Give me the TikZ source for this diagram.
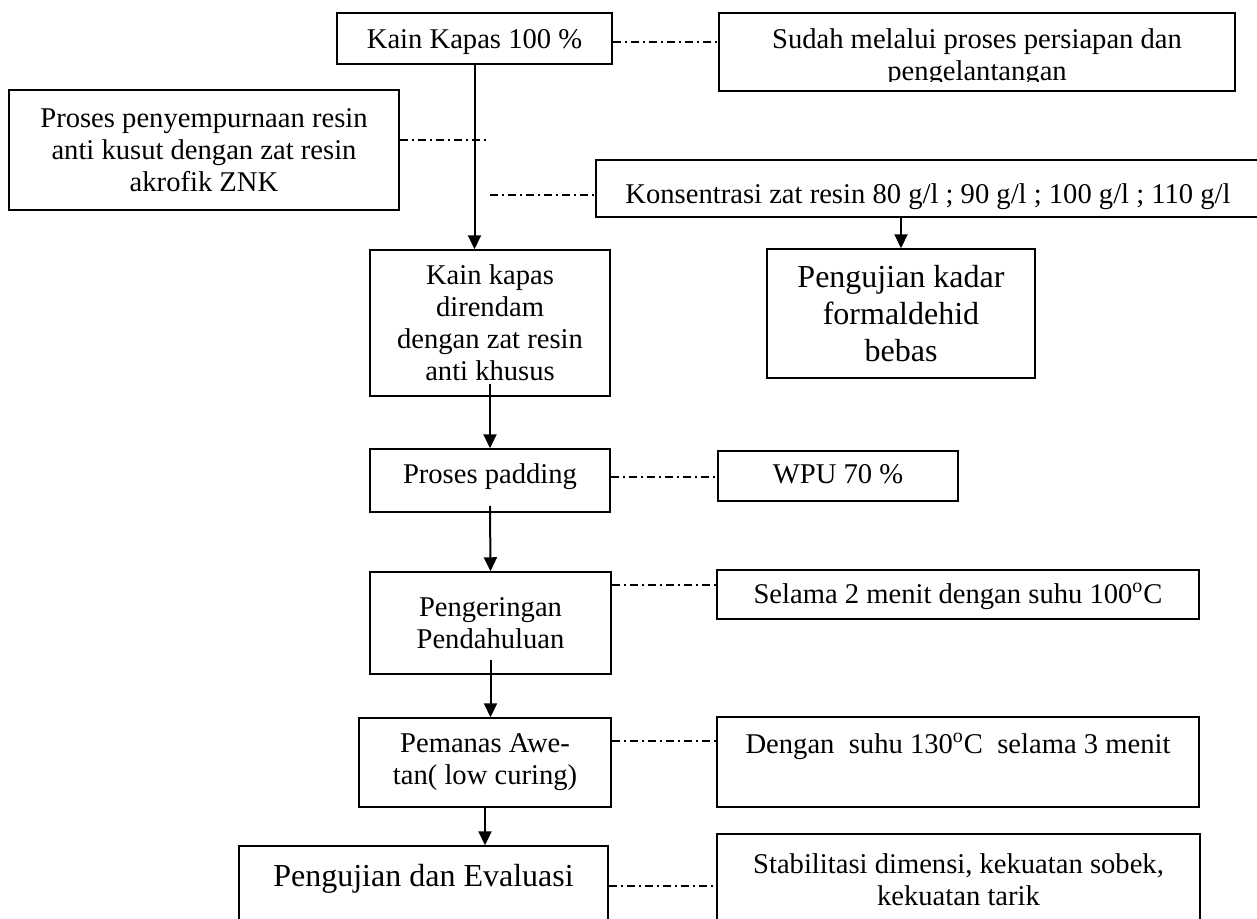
\documentclass[tikz,border=0pt]{standalone}
\usepackage{fontspec}
\setmainfont{Liberation Serif}
\usetikzlibrary{arrows.meta}

\tikzset{
  box/.style={draw, line width=0.75pt, inner sep=0pt, align=center,
    font=\fontsize{14.3}{16}\selectfont},
  bigbox/.style={box, font=\fontsize{16}{18.5}\selectfont},
  flow/.style={line width=1pt, -{Triangle[length=7pt,width=6.5pt]}},
  link/.style={line width=0.6pt, dash pattern=on 4pt off 2pt on 1pt off 2pt}
}

\begin{document}
\begin{tikzpicture}[x=0.5pt,y=-0.5pt]
\useasboundingbox (0,0) rectangle (1257,918);
\clip (0,0) rectangle (1257,918);
% main column
\node[box, minimum width=137.5pt, text height=17.5pt, text depth=8pt] (kapas) at (474.5,38.5) {Kain Kapas 100 \%};
\node[box, minimum width=195pt, minimum height=60pt] (proses) at (204,150)
  {Proses penyempurnaan resin\\anti kusut dengan zat resin\\akrofik ZNK};
\node[box, minimum width=120pt, minimum height=73pt] (rendam) at (490,323)
  {Kain kapas\\direndam\\dengan zat resin\\anti khusus};
\node[box, minimum width=120pt, text height=17pt, text depth=14.5pt] (padding) at (490,480.5) {Proses padding};
\node[box, minimum width=120.5pt, minimum height=51pt] (kering) at (490.5,623) {Pengeringan\\Pendahuluan};
\node[box, minimum width=126pt, minimum height=44.5pt] (pemanas) at (485,762.5) {Pemanas Awe-\\tan( low curing)};
\node[bigbox, minimum width=184.5pt, text height=20pt, text depth=40pt] (evaluasi) at (423.5,906) {Pengujian dan Evaluasi};
% right column
\node[box, minimum width=258pt, minimum height=39pt] (sudah) at (977,52) {};
\begin{scope}
\clip (sudah.north west) rectangle ([yshift=5pt]sudah.south east);
\node[box, draw=none] (sudahtext) at (977,58) {Sudah melalui proses persiapan dan\\pengelantangan};
\end{scope}
\node[box, minimum width=332pt, text height=21.5pt, text depth=7pt] (konsen) at (928,188.5)
  {Konsentrasi zat resin 80 g/l ; 90 g/l ; 100 g/l ; 110 g/l};
\node[bigbox, minimum width=134pt, minimum height=64.5pt] (formal) at (901,313.5)
  {Pengujian kadar\\formaldehid\\bebas};
\node[box, minimum width=120pt, text height=16pt, text depth=9pt] (wpu) at (838,476) {WPU 70 \%};
\node[box, minimum width=241pt, text height=16.5pt, text depth=8pt] (selama) at (958,594.5)
  {Selama 2 menit dengan suhu 100\textsuperscript{o}C};
\node[box, minimum width=241pt, text height=18pt, text depth=27pt] (dengan) at (958,762)
  {Dengan~ suhu 130\textsuperscript{o}C~ selama 3 menit};
\node[box, minimum width=241.5pt, minimum height=46pt] (stabil) at (958.5,880)
  {Stabilitasi dimensi, kekuatan sobek,\\kekuatan tarik};
\coordinate (pj) at (486,140);
\coordinate (kj) at (490,195);
% arrows
\draw[flow] (kapas.south) -- (kapas.south |- rendam.north);
\draw[flow] ([yshift=6.5pt]rendam.south) -- (padding.north);
\draw[flow] ([yshift=3.5pt]padding.south) -- (kering.north);
\draw[flow] ([yshift=7.5pt]kering.south) -- (kering.south |- pemanas.north);
\draw[flow] (pemanas.south) -- (pemanas.south |- evaluasi.north);
\draw[flow] (formal.north |- konsen.south) -- (formal.north);
% dash-dot links
\draw[link] (proses.east |- pj) -- (pj);
\draw[link] (kj) -- (kj -| konsen.west);
\foreach \a/\b/\s in {kapas/sudah/-1.75pt, padding/wpu/1.75pt, kering/selama/19pt,
    pemanas/dengan/10.75pt, evaluasi/stabil/10pt}
  \draw[link] ([yshift=\s]\a.east) -- ([yshift=\s]\a.east -| \b.west);
\end{tikzpicture}
\end{document}
